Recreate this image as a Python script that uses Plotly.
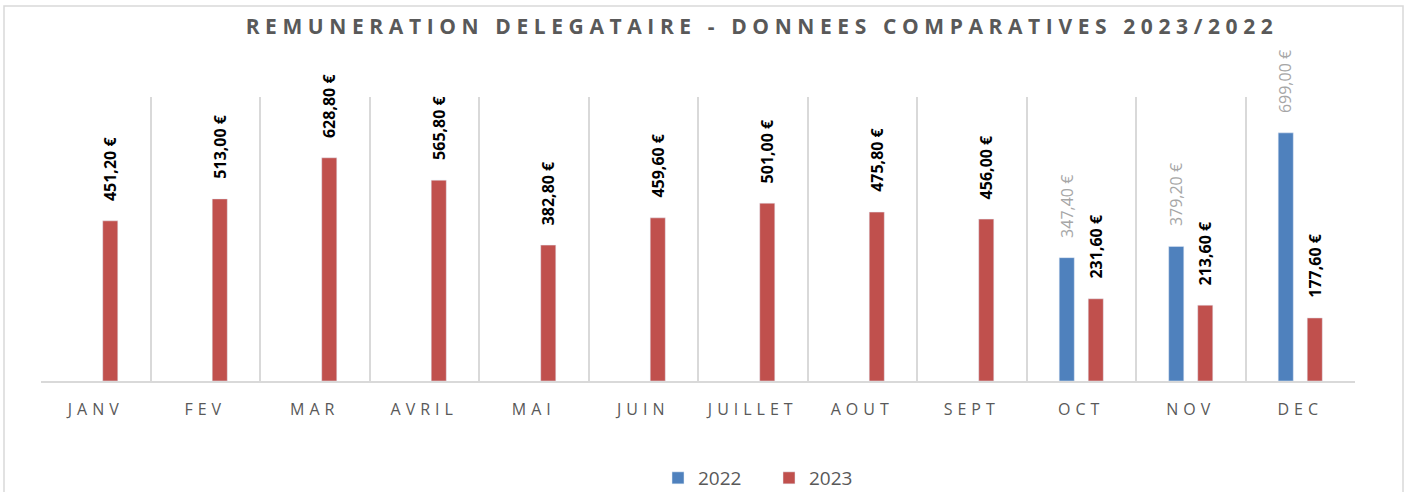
import plotly.graph_objects as go

months = ["JANV", "FEV", "MAR", "AVRIL", "MAI", "JUIN", "JUILLET", "AOUT", "SEPT", "OCT", "NOV", "DEC"]
values_2022 = [None, None, None, None, None, None, None, None, None, 347.40, 379.20, 699.00]
values_2023 = [451.20, 513.00, 628.80, 565.80, 382.80, 459.60, 501.00, 475.80, 456.00, 231.60, 213.60, 177.60]

title_text = "REMUNERATION DELEGATAIRE - DONNEES COMPARATIVES 2023/2022"

def fmt(v):
    return f"{v:,.2f}".replace(",", " ").replace(".", ",") + " €"

BLUE = "#4F81BD"
RED = "#C0504D"
FONT = "Open Sans"

L, R, T, B = 41, 55, 97, 111
W, H = 1410, 492
plot_w = W - L - R
plot_h = H - T - B
bargap = 0.47
bargroupgap = 0.48
cat_w = plot_w / len(months)
shift = (1 - bargap) * cat_w / 4

fig = go.Figure()
fig.add_trace(go.Bar(name="2022", x=months, y=values_2022, marker_color=BLUE))
fig.add_trace(go.Bar(name="2023", x=months, y=values_2023, marker_color=RED))

annotations = []
for m, v in zip(months, values_2022):
    if v is not None:
        annotations.append(dict(x=m, y=v, xref="x", yref="y", text=fmt(v), showarrow=False,
                                textangle=-90, xshift=-shift, yshift=18, yanchor="bottom", xanchor="center",
                                font=dict(family=FONT, size=16, color="#A6A6A6")))
for m, v in zip(months, values_2023):
    if v is not None:
        annotations.append(dict(x=m, y=v, xref="x", yref="y", text="<b>" + fmt(v) + "</b>", showarrow=False,
                                textangle=-90, xshift=shift, yshift=18, yanchor="bottom", xanchor="center",
                                font=dict(family=FONT, size=16, color="#000000")))

fig.update_layout(
    width=W, height=H,
    margin=dict(l=L, r=R, t=T, b=B, autoexpand=False),
    paper_bgcolor="white", plot_bgcolor="white",
    barmode="group", bargap=bargap, bargroupgap=bargroupgap,
    title=dict(text="<b>" + title_text + "</b>", x=762 / W, xanchor="center",
               y=1 - 27 / H, yanchor="middle",
               font=dict(family=FONT, size=21, color="#595959")),
    legend=dict(orientation="h", x=(658 - L) / plot_w, xanchor="left", y=(381 - 478) / plot_h, yanchor="middle",
                font=dict(family=FONT, size=19, color="#595959"),
                entrywidth=66, entrywidthmode="pixels", tracegroupgap=0),
    annotations=annotations,
    shapes=[dict(type="rect", xref="paper", yref="paper",
                 x0=(4 - L) / plot_w, x1=(1403 - L) / plot_w,
                 y0=-0.6, y1=(H - B - 6) / plot_h,
                 line=dict(color="#D9D9D9", width=1.5), fillcolor="rgba(0,0,0,0)", layer="below")],
)

fig.update_xaxes(type="category", tickson="boundaries", showgrid=True, gridcolor="#D9D9D9", gridwidth=1.5,
                 showline=True, linecolor="#D9D9D9", linewidth=1.5, ticks="", automargin=False,
                 ticklabelstandoff=13, range=[-0.5, len(months) - 0.5],
                 tickfont=dict(family=FONT, size=16, color="#595959"))
fig.update_yaxes(range=[0, 800], visible=False, showgrid=False, zeroline=False, automargin=False)

post = """
document.body.style.margin = '0';
document.querySelectorAll('.gtitle').forEach(function(e){ e.style.letterSpacing = '5.6px'; });
document.querySelectorAll('.xtick text').forEach(function(e){ e.style.letterSpacing = '5px'; });
"""

fig.write_html("out.html", post_script=post, config={"displayModeBar": False})
